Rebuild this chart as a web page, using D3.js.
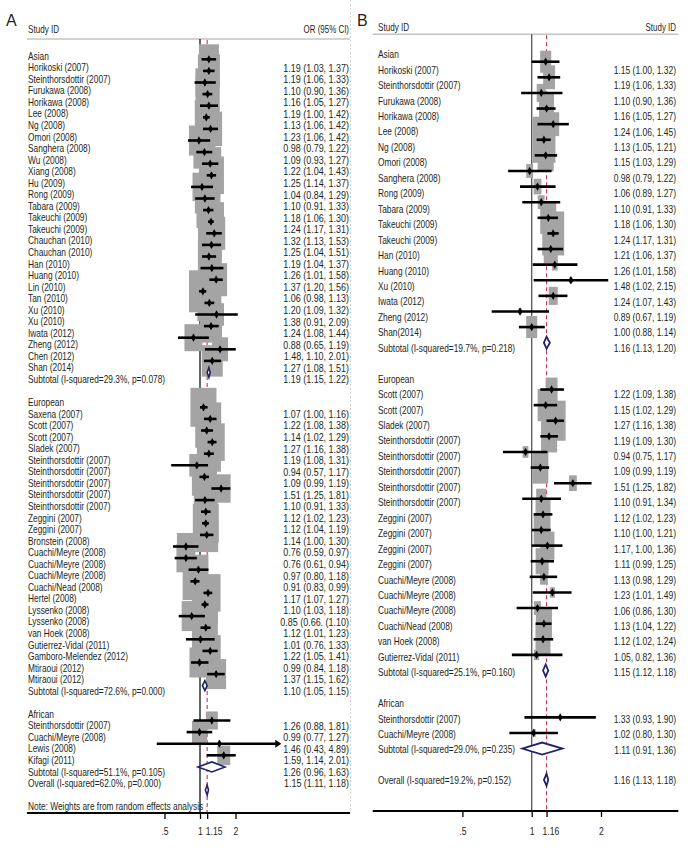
<!DOCTYPE html>
<html>
<head>
<meta charset="utf-8">
<script src="https://cdn.jsdelivr.net/npm/d3@7"></script>
<style>
  body { margin: 0; background: #fff; }
</style>
</head>
<body>
<div id="chart"></div>
<script>
var groups = ["Asian", "European", "African"];

// panel A: [study, OR, lower, upper, weight %, printed value when it differs]
var asianA = [
  ["Horikoski (2007)", 1.19, 1.03, 1.37, 1.38],
  ["Steinthorsdottir (2007)", 1.19, 1.06, 1.33, 1.67],
  ["Furukawa (2008)", 1.10, 0.90, 1.36, 1.24],
  ["Horikawa (2008)", 1.16, 1.05, 1.27, 1.99],
  ["Lee (2008)", 1.19, 1.00, 1.42, 1.52],
  ["Ng (2008)", 1.13, 1.06, 1.21, 1.82, "1.13 (1.06, 1.42)"],
  ["Omori (2008)", 1.23, 1.06, 1.42, 1.82],
  ["Sanghera (2008)", 0.98, 0.79, 1.22, 1.38],
  ["Wu (2008)", 1.09, 0.93, 1.27, 1.67],
  ["Xiang (2008)", 1.22, 1.04, 1.43, 1.67],
  ["Hu (2009)", 1.25, 1.14, 1.37, 2.16],
  ["Rong (2009)", 1.04, 0.84, 1.29, 1.24],
  ["Tabara (2009)", 1.10, 0.91, 1.33, 1.38],
  ["Takeuchi (2009)", 1.18, 1.06, 1.30, 1.99],
  ["Takeuchi (2009)", 1.24, 1.17, 1.31, 2.33],
  ["Chauchan (2010)", 1.32, 1.13, 1.53, 1.67],
  ["Chauchan (2010)", 1.25, 1.04, 1.51, 1.52],
  ["Han (2010)", 1.19, 1.04, 1.37, 1.67],
  ["Huang (2010)", 1.26, 1.01, 1.58, 1.38],
  ["Lin (2010)", 1.37, 1.20, 1.56, 1.67],
  ["Tan (2010)", 1.06, 0.98, 1.13, 2.70],
  ["Xu (2010)", 1.20, 1.09, 1.32, 1.99],
  ["Xu (2010)", 1.38, 0.91, 2.09, 0.78],
  ["Iwata (2012)", 1.24, 1.08, 1.44, 1.67],
  ["Zheng (2012)", 0.88, 0.65, 1.19, 1.12],
  ["Chen (2012)", 1.48, 1.10, 2.01, 0.88, "1.48, 1.10, 2.01)"],
  ["Shan (2014)", 1.27, 1.08, 1.51, 1.52]
];
var europeanA = [
  ["Saxena (2007)", 1.07, 1.00, 1.16, 2.33],
  ["Scott (2007)", 1.22, 1.08, 1.38, 1.67],
  ["Scott (2007)", 1.14, 1.02, 1.29, 1.82],
  ["Sladek (2007)", 1.27, 1.16, 1.38, 2.16],
  ["Steinthorsdottir (2007)", 1.19, 1.08, 1.31, 1.99],
  ["Steinthorsdottir (2007)", 0.94, 0.57, 1.17, 0.78],
  ["Steinthorsdottir (2007)", 1.09, 0.99, 1.19, 2.16],
  ["Steinthorsdottir (2007)", 1.51, 1.25, 1.81, 1.24],
  ["Steinthorsdottir (2007)", 1.10, 0.91, 1.33, 1.52],
  ["Zeggini (2007)", 1.12, 1.02, 1.23, 1.99],
  ["Zeggini (2007)", 1.12, 1.04, 1.19, 2.33],
  ["Bronstein (2008)", 1.14, 1.00, 1.30, 1.82],
  ["Cuachi/Meyre (2008)", 0.76, 0.59, 0.97, 1.12],
  ["Cuachi/Meyre (2008)", 0.76, 0.61, 0.94, 1.24],
  ["Cuachi/Meyre (2008)", 0.97, 0.80, 1.18, 1.38],
  ["Cuachi/Nead (2008)", 0.91, 0.83, 0.99, 2.16],
  ["Hertel (2008)", 1.17, 1.07, 1.27, 2.16],
  ["Lyssenko (2008)", 1.10, 1.03, 1.18, 2.33],
  ["Lyssenko (2008)", 0.85, 0.66, 1.10, 1.38, "0.85 (0.66. (1.10)"],
  ["van Hoek (2008)", 1.12, 1.01, 1.23, 1.99],
  ["Gutierrez-Vidal (2011)", 1.01, 0.76, 1.33, 1.00],
  ["Gamboro-Melendez (2012)", 1.22, 1.05, 1.41, 1.52],
  ["Mtiraoui (2012)", 0.99, 0.84, 1.18, 1.38],
  ["Mtiraoui (2012)", 1.37, 1.15, 1.62, 1.38]
];
var africanA = [
  ["Steinthorsdottir (2007)", 1.26, 0.88, 1.81, 0.50],
  ["Cuachi/Meyre (2008)", 0.99, 0.77, 1.27, 0.78],
  ["Lewis (2008)", 1.46, 0.43, 4.89, 0.03],
  ["Kifagi (2011)", 1.59, 1.14, 2.01, 0.58, "1.59, 1.14, 2.01)"]
];
var subtotalsA = [
  ["Subtotal (I-squared=29.3%, p=0.078)", 1.19, 1.15, 1.22],
  ["Subtotal (I-squared=72.6%, p=0.000)", 1.10, 1.05, 1.15],
  ["Subtotal (I-squared=51.1%, p=0.105)", 1.26, 0.96, 1.63]
];
var overallA = ["Overall (I-squared=62.0%, p=0.000)", 1.15, 1.11, 1.18];
var ticksA = [0.5, 1, 1.15, 2];
var tickLabelsA = [".5", "1", "1.15", "2"];

// panel B
var asianB = [
  ["Horikoski (2007)", 1.15, 1.00, 1.32, 1.8],
  ["Steinthorsdottir (2007)", 1.19, 1.06, 1.33, 2.1],
  ["Furukawa (2008)", 1.10, 0.90, 1.36, 1.2],
  ["Horikawa (2008)", 1.16, 1.05, 1.27, 3.3],
  ["Lee (2008)", 1.24, 1.06, 1.45, 2.1],
  ["Ng (2008)", 1.13, 1.05, 1.21, 7.8],
  ["Omori (2008)", 1.15, 1.03, 1.29, 3.8],
  ["Sanghera (2008)", 0.98, 0.79, 1.22, 0.7],
  ["Rong (2009)", 1.06, 0.89, 1.27, 0.9],
  ["Tabara (2009)", 1.10, 0.91, 1.33, 0.7],
  ["Takeuchi (2009)", 1.18, 1.06, 1.30, 3.8],
  ["Takeuchi (2009)", 1.24, 1.17, 1.31, 7.1],
  ["Han (2010)", 1.21, 1.06, 1.37, 2.9],
  ["Huang (2010)", 1.26, 1.01, 1.58, 0.5],
  ["Xu (2010)", 1.48, 1.02, 2.15, 0.13],
  ["Iwata (2012)", 1.24, 1.07, 1.43, 1.2],
  ["Zheng (2012)", 0.89, 0.67, 1.19, 0.13],
  ["Shan(2014)", 1.00, 0.88, 1.14, 1.8]
];
var europeanB = [
  ["Scott (2007)", 1.22, 1.09, 1.38, 2.1],
  ["Scott (2007)", 1.15, 1.02, 1.29, 3.8],
  ["Sladek (2007)", 1.27, 1.16, 1.38, 5.9],
  ["Steinthorsdottir (2007)", 1.19, 1.09, 1.30, 3.8],
  ["Steinthorsdottir (2007)", 0.94, 0.75, 1.17, 0.5],
  ["Steinthorsdottir (2007)", 1.09, 0.99, 1.19, 3.8],
  ["Steinthorsdottir (2007)", 1.51, 1.25, 1.82, 0.9],
  ["Steinthorsdottir (2007)", 1.10, 0.91, 1.34, 1.5],
  ["Zeggini (2007)", 1.12, 1.02, 1.23, 3.3],
  ["Zeggini (2007)", 1.10, 1.00, 1.21, 3.3],
  ["Zeggini (2007)", 1.17, 1.00, 1.36, 2.9, "1.17, 1.00, 1.36)"],
  ["Zeggini (2007)", 1.11, 0.99, 1.25, 2.5],
  ["Cuachi/Meyre (2008)", 1.13, 0.98, 1.29, 0.9],
  ["Cuachi/Meyre (2008)", 1.23, 1.01, 1.49, 0.4],
  ["Cuachi/Meyre (2008)", 1.06, 0.86, 1.30, 0.7],
  ["Cuachi/Nead (2008)", 1.13, 1.04, 1.22, 3.8],
  ["van Hoek (2008)", 1.12, 1.02, 1.24, 3.3],
  ["Gutierrez-Vidal (2011)", 1.05, 0.82, 1.36, 0.4, "1.05, 0.82, 1.36)"]
];
var africanB = [
  ["Steinthorsdottir (2007)", 1.33, 0.93, 1.90, 0.06],
  ["Cuachi/Meyre (2008)", 1.02, 0.80, 1.30, 0.24]
];
var subtotalsB = [
  ["Subtotal (I-squared=19.7%, p=0.218)", 1.16, 1.13, 1.20],
  ["Subtotal (I-squared=25.1%, p=0.160)", 1.15, 1.12, 1.18],
  ["Subtotal (I-squared=29.0%, p=0.235)", 1.11, 0.91, 1.36]
];
var overallB = ["Overall (I-squared=19.2%, p=0.152)", 1.16, 1.13, 1.18];
var ticksB = [0.5, 1, 1.16, 2];
var tickLabelsB = [".5", "1", "1.16", "2"];

var font = "'Liberation Sans', Arial, sans-serif";
var narrow = 0.78; // squeeze the sans to a condensed width
var ink = "#231f20";
var boxGrey = "#a4a4a4";
var navy = "#22226e";
var red = "#c8344f";
var f2 = d3.format(".2f");

var svg = d3.select("#chart")
  .append("svg")
  .attr("width", 700)
  .attr("height", 848)
  .style("font-family", font)
  .attr("fill", ink);

function squeeze(x, y) {
  return "translate(" + x + "," + y + ") scale(" + narrow + ",1)";
}

// faint separator between the panels
svg.append("line")
  .attr("x1", 350.5).attr("x2", 350.5)
  .attr("y1", 0).attr("y2", 812)
  .attr("stroke", "#d4d4d4")
  .attr("stroke-dasharray", "2,2");

drawPanel({
  letter: "A", letterX: 6,
  studies: [asianA, europeanA, africanA], subtotals: subtotalsA, overall: overallA,
  ticks: ticksA, tickLabels: tickLabelsA,
  labelX: 28, valueX: 349, valueHead: "OR (95% CI)", headerY: 33, ruleY: 39,
  lineX: [27, 350], axisY: 813, tickPad: 8, tickDx: 6.5,
  xRange: [164.5, 235.5], xMax: 4,
  textRows: [56, 67.545], markRows: [47.7, 59.3],
  overallGap: 0, overallShift: 1,
  boxSide: 17.03, boxAspect: 1.5, diamondH: 10, diamondW: 1.6,
  nullColor: "#111", valueSize: 11.5,
  note: "Note: Weights are from random effects analysis"
});

drawPanel({
  letter: "B", letterX: 357,
  studies: [asianB, europeanB, africanB], subtotals: subtotalsB, overall: overallB,
  ticks: ticksB, tickLabels: tickLabelsB,
  labelX: 378, valueX: 676, valueHead: "Study ID", headerY: 31, ruleY: 34.3,
  lineX: [372.7, 678.3], axisY: 811, tickPad: 10, tickDx: 3.8,
  xRange: [462.4, 601], xMax: 4,
  textRows: [54.5, 69.95], markRows: [46.1, 61.71],
  overallGap: 1, overallShift: 0,
  boxSide: 8.25, boxAspect: 2, diamondH: 12, diamondW: 1.8,
  nullColor: "#555", valueSize: 10.9
});

function buildRows(p) {
  var rows = [];
  var r = 0;
  groups.forEach(function(name, gi) {
    rows.push({ type: "head", label: name, row: r++ });
    p.studies[gi].forEach(function(s) {
      rows.push({ type: "study", label: s[0], or: s[1], lo: s[2], hi: s[3], w: s[4], text: s[5], row: r++ });
    });
    var t = p.subtotals[gi];
    rows.push({ type: "sub", label: t[0], or: t[1], lo: t[2], hi: t[3], row: r++ });
    if (gi < groups.length - 1 || p.overallGap) r++;
  });
  var o = p.overall;
  rows.push({ type: "overall", label: o[0], or: o[1], lo: o[2], hi: o[3], row: r });
  return rows;
}

function orText(d) {
  return d.text || f2(d.or) + " (" + f2(d.lo) + ", " + f2(d.hi) + ")";
}

function drawPanel(p) {
  var g = svg.append("g");
  var rows = buildRows(p);
  var studies = rows.filter(function(d) { return d.type == "study"; });
  var pooled = rows.filter(function(d) { return d.type == "sub" || d.type == "overall"; });

  var x = d3.scaleLog().domain([0.5, 2]).range(p.xRange);
  var yText = d3.scaleLinear().domain([0, 1]).range(p.textRows);
  var yMark = d3.scaleLinear().domain([0, 1]).range(p.markRows);
  var side = d3.scaleSqrt().domain([0, 1]).range([0, p.boxSide]);
  function markY(d) {
    return yMark(d.type == "overall" ? d.row + p.overallShift : d.row);
  }

  // panel letter and header
  g.append("text")
    .attr("x", p.letterX).attr("y", 26)
    .style("font-size", "16px")
    .text(p.letter);
  g.append("text")
    .attr("transform", squeeze(p.labelX, p.headerY))
    .style("font-size", "10.4px")
    .text("Study ID");
  g.append("text")
    .attr("transform", squeeze(p.valueX, p.headerY))
    .attr("text-anchor", "end")
    .style("font-size", "10.2px")
    .text(p.valueHead);
  g.append("line")
    .attr("x1", p.lineX[0]).attr("x2", p.lineX[1])
    .attr("y1", p.ruleY).attr("y2", p.ruleY)
    .attr("stroke", "#c4c4c4").attr("stroke-width", 1.6);

  // null line and pooled estimate line
  g.append("line")
    .attr("x1", x(1)).attr("x2", x(1))
    .attr("y1", p.ruleY).attr("y2", p.axisY)
    .attr("stroke", p.nullColor).attr("stroke-width", 1.3);
  g.append("line")
    .attr("x1", x(p.overall[1])).attr("x2", x(p.overall[1]))
    .attr("y1", p.ruleY + 1).attr("y2", p.axisY)
    .attr("stroke", red).attr("stroke-width", 1.1)
    .attr("stroke-dasharray", "4,3");

  // weight boxes
  g.selectAll("rect.box")
    .data(studies)
    .enter()
    .append("rect")
    .attr("class", "box")
    .attr("x", function(d) { return x(d.or) - side(d.w) / 2; })
    .attr("y", function(d) { return markY(d) - side(d.w) * p.boxAspect / 2; })
    .attr("width", function(d) { return side(d.w); })
    .attr("height", function(d) { return side(d.w) * p.boxAspect; })
    .attr("fill", boxGrey);

  // confidence intervals, arrow where they run past the plot
  g.selectAll("line.ci")
    .data(studies)
    .enter()
    .append("line")
    .attr("class", "ci")
    .attr("x1", function(d) { return x(d.lo); })
    .attr("x2", function(d) { return d.hi > p.xMax ? x(d.hi) - 5 : x(d.hi); })
    .attr("y1", markY).attr("y2", markY)
    .attr("stroke", "#000").attr("stroke-width", 2.6);
  g.selectAll("path.arrow")
    .data(studies.filter(function(d) { return d.hi > p.xMax; }))
    .enter()
    .append("path")
    .attr("class", "arrow")
    .attr("d", function(d) {
      var xt = x(d.hi), yy = markY(d);
      return "M" + xt + "," + yy + "L" + (xt - 6) + "," + (yy - 4) + "L" + (xt - 6) + "," + (yy + 4) + "Z";
    })
    .attr("fill", "#000");

  // point estimates
  g.selectAll("path.point")
    .data(studies)
    .enter()
    .append("path")
    .attr("class", "point")
    .attr("d", d3.symbol(d3.symbolDiamond, 20))
    .attr("transform", function(d) { return "translate(" + x(d.or) + "," + markY(d) + ")"; })
    .attr("fill", "#000");

  // pooled diamonds
  g.selectAll("path.pooled")
    .data(pooled)
    .enter()
    .append("path")
    .attr("class", "pooled")
    .attr("d", function(d) {
      var yy = markY(d), h = p.diamondH / 2;
      return "M" + x(d.lo) + "," + yy + "L" + x(d.or) + "," + (yy - h) +
        "L" + x(d.hi) + "," + yy + "L" + x(d.or) + "," + (yy + h) + "Z";
    })
    .attr("fill", "#fff")
    .attr("stroke", navy)
    .attr("stroke-width", p.diamondW);

  // row labels and values
  g.selectAll("text.label")
    .data(rows)
    .enter()
    .append("text")
    .attr("class", "label")
    .attr("transform", function(d) { return squeeze(p.labelX, yText(d.row)); })
    .attr("dy", "0.35em")
    .style("font-size", "10.7px")
    .text(function(d) { return d.label; });
  g.selectAll("text.value")
    .data(rows.filter(function(d) { return d.type != "head"; }))
    .enter()
    .append("text")
    .attr("class", "value")
    .attr("transform", function(d) { return squeeze(p.valueX, yText(d.row)); })
    .attr("dy", "0.35em")
    .attr("text-anchor", "end")
    .style("font-size", p.valueSize + "px")
    .text(orText);

  if (p.note) {
    g.append("text")
      .attr("transform", squeeze(p.labelX, yText(rows[rows.length - 1].row + 2)))
      .attr("dy", "0.35em")
      .style("font-size", "10.7px")
      .text(p.note);
  }

  // x axis
  g.append("line")
    .attr("x1", p.lineX[0]).attr("x2", p.lineX[1])
    .attr("y1", p.axisY).attr("y2", p.axisY)
    .attr("stroke", "#000").attr("stroke-width", 2);
  var axis = g.append("g")
    .attr("transform", "translate(0," + p.axisY + ")")
    .call(d3.axisBottom(x)
      .tickValues(p.ticks)
      .tickFormat(function(d, i) { return p.tickLabels[i]; })
      .tickSize(6)
      .tickPadding(p.tickPad));
  axis.select(".domain").remove();
  axis.selectAll(".tick line").attr("stroke", "#000").attr("stroke-width", 1.3);
  axis.selectAll(".tick text")
    .style("font-family", font)
    .style("font-size", "11px")
    .attr("fill", ink)
    .attr("transform", "scale(" + narrow + ",1)")
    .attr("dx", function(d, i) { return i == 2 ? p.tickDx / narrow : 0; });
}
</script>
</body>
</html>
